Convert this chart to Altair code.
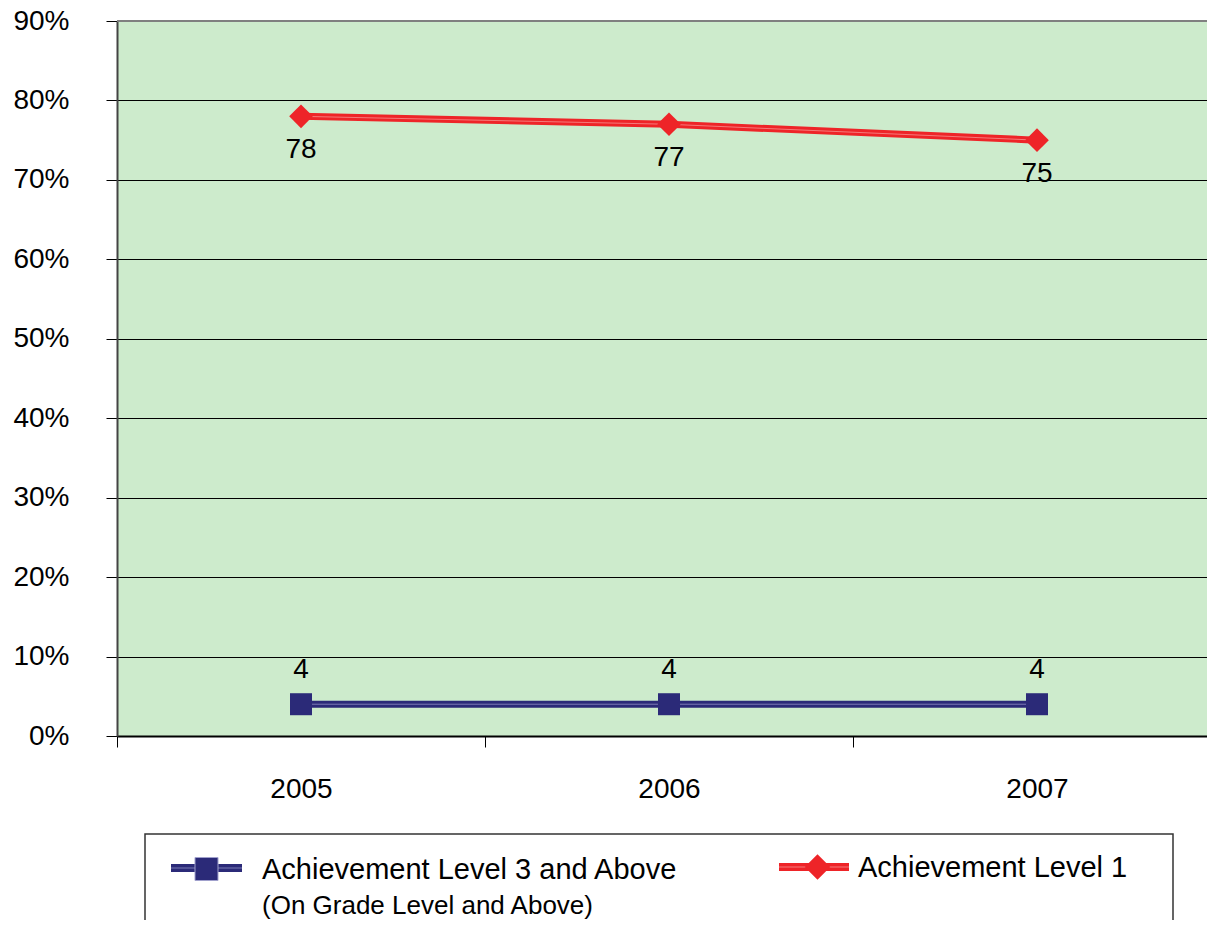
import altair as alt
import pandas as pd

# ---- data ----
years = ["2005", "2006", "2007"]
level3_above = [4, 4, 4]
level1 = [78, 77, 75]
y_ticks = [0, 10, 20, 30, 40, 50, 60, 70, 80, 90]
legend_l3 = "Achievement Level 3 and Above"
legend_l3_sub = "(On Grade Level and Above)"
legend_l1 = "Achievement Level 1"

NAVY = "#2B2A78"
NAVY_LIGHT = "#7B7BB5"
RED = "#EE2428"
RED_LIGHT = "#F57A7A"
GREEN = "#CDEBCC"
FONT = "Liberation Sans"

df3 = pd.DataFrame({"year": years, "value": level3_above})
df1 = pd.DataFrame({"year": years, "value": level1})
one = pd.DataFrame({"k": [0]})

xscale = alt.Scale(type="band", domain=years, range=[0, 1104], paddingInner=0, paddingOuter=0)
X = alt.X("year:N", bandPosition=0.5, scale=xscale,
          axis=alt.Axis(title=None, tickBand="extent", tickSize=11, tickColor="black",
                        domainColor="black", domainWidth=2, labelFontSize=28,
                        labelFont=FONT, labelColor="black", labelPadding=28,
                        labelAngle=0, labelBaseline="top"))
Y = alt.Y("value:Q", scale=alt.Scale(domain=[0, 90], nice=False),
          axis=alt.Axis(title=None, values=y_ticks, labelExpr="datum.value + '%'",
                        grid=True, gridColor="black", gridWidth=1, tickSize=11,
                        tickColor="black", domainColor="#444", domainWidth=2,
                        labelFontSize=28, labelFont=FONT, labelColor="black",
                        labelPadding=37))

def series(df, color, light, shape, size, dy):
    base = alt.Chart(df)
    line = base.mark_line(color=color, strokeWidth=7).encode(x=X, y=Y)
    inner = base.mark_line(color=light, strokeWidth=1).encode(x=X, y=Y)
    if shape == "square":
        pts = base.mark_square(color=color, opacity=1, size=size).encode(x=X, y=Y)
    else:
        pts = base.mark_point(shape="diamond", filled=True, color=color, opacity=1,
                              size=size).encode(x=X, y=Y)
    labels = base.mark_text(font=FONT, fontSize=28, color="black", baseline="alphabetic",
                            dy=dy).encode(x=X, y=Y, text="value:Q")
    return [line, inner, pts, labels]

layers = series(df3, NAVY, NAVY_LIGHT, "square", 484, -26) + \
         series(df1, RED, RED_LIGHT, "diamond", 560, 42)

leg = alt.Chart(one)
extra_layers = [
    # top border of plot area
    leg.mark_rule(color="#808080", strokeWidth=2).encode(
        x=alt.value(0), x2=alt.value(1104), y=alt.value(0)),
    # legend box
    leg.mark_rect(fill="white", stroke="#333333", strokeWidth=1.5).encode(
        x=alt.value(28), x2=alt.value(1056), y=alt.value(813), y2=alt.value(960)),
    leg.mark_rule(color=NAVY, strokeWidth=8).encode(
        x=alt.value(54), x2=alt.value(125), y=alt.value(847)),
    leg.mark_rule(color=NAVY_LIGHT, strokeWidth=1).encode(
        x=alt.value(54), x2=alt.value(125), y=alt.value(847)),
    leg.mark_square(color=NAVY, opacity=1, size=529, stroke="#A0A0CC", strokeWidth=1).encode(
        x=alt.value(89.5), y=alt.value(848)),
    leg.mark_rule(color=RED, strokeWidth=8).encode(
        x=alt.value(662), x2=alt.value(732), y=alt.value(846)),
    leg.mark_rule(color=RED_LIGHT, strokeWidth=1).encode(
        x=alt.value(662), x2=alt.value(732), y=alt.value(846)),
    leg.mark_point(shape="diamond", filled=True, color=RED, opacity=1, size=650).encode(
        x=alt.value(700.5), y=alt.value(846)),
    leg.mark_text(font=FONT, fontSize=29, color="black", align="left",
                  baseline="alphabetic").encode(
        x=alt.value(145), y=alt.value(858), text=alt.value(legend_l3)),
    leg.mark_text(font=FONT, fontSize=26, color="black", align="left",
                  baseline="alphabetic").encode(
        x=alt.value(145), y=alt.value(893), text=alt.value(legend_l3_sub)),
    leg.mark_text(font=FONT, fontSize=29, color="black", align="left",
                  baseline="alphabetic").encode(
        x=alt.value(741), y=alt.value(856), text=alt.value(legend_l1)),
]

chart = alt.layer(*layers, *extra_layers).properties(
    width=1090, height=715,
    autosize=alt.AutoSizeParams(type="none"),
    padding={"left": 109, "top": 13, "right": 0, "bottom": 184},
    background="white",
).configure_view(
    fill=GREEN, stroke="transparent", strokeWidth=0
)

chart.save("out.html", embed_options={"renderer": "svg", "actions": False})
